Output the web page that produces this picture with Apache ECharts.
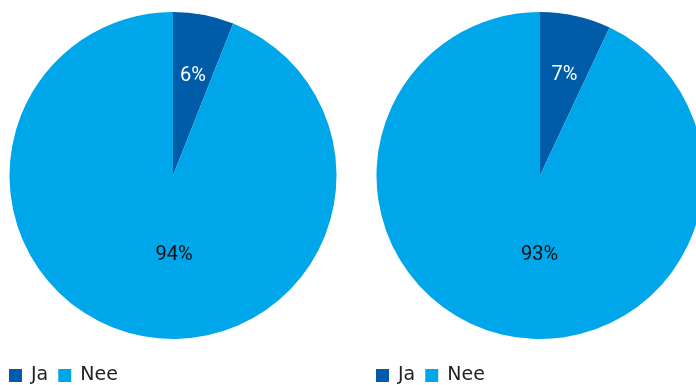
<!DOCTYPE html>
<html>
<head>
<meta charset="utf-8">
<script src="https://cdn.jsdelivr.net/npm/echarts@6/dist/echarts.min.js"></script>
<style>
  html, body { margin: 0; padding: 0; background: #fff; }
  #chart { width: 696px; height: 385px; }
</style>
</head>
<body>
<div id="chart"></div>
<script>
// Data for both pies
const categories = ["Ja", "Nee"];
const leftValues = [6, 94];
const rightValues = [7, 93];
const colors = ["#005CA9", "#00A6EA"];

// label nudges so the percentages sit where the original has them
const leftOffsets = [[4, -16], [17, -4]];
const rightOffsets = [[6, -18], [18, -3]];

const buildData = (values, offsets) =>
    categories.map((name, i) => ({
        name: name,
        value: values[i],
        label: {
            offset: offsets[i],
            color: i === 0 ? "#ffffff" : "#111111",
        },
    }));

const pieSeries = (center, values, offsets) => ({
    type: "pie",
    center: center,
    radius: 163.5,
    startAngle: 90,
    clockwise: true,
    avoidLabelOverlap: false,
    silent: true,
    label: {
        show: true,
        position: "inside",
        formatter: "{d}%",
        fontFamily: "Roboto",
        fontSize: 20,
    },
    labelLine: { show: false },
    itemStyle: { borderWidth: 0 },
    data: buildData(values, offsets),
});

const legendBase = {
    data: categories,
    icon: "rect",
    itemWidth: 13,
    itemHeight: 13,
    itemGap: 10,
    top: 361,
    textStyle: {
        fontFamily: "DejaVu Sans",
        fontSize: 19,
        color: "#222222",
        padding: [0, 0, 0, 4],
    },
};

const option = {
    animation: false,
    color: colors,
    legend: [
        Object.assign({ left: 4 }, legendBase),
        Object.assign({ left: 371 }, legendBase),
    ],
    series: [
        pieSeries([173, 175.5], leftValues, leftOffsets),
        pieSeries([540, 175.5], rightValues, rightOffsets),
    ],
};

const chart = echarts.init(document.getElementById("chart"));
chart.setOption(option);
</script>
</body>
</html>
